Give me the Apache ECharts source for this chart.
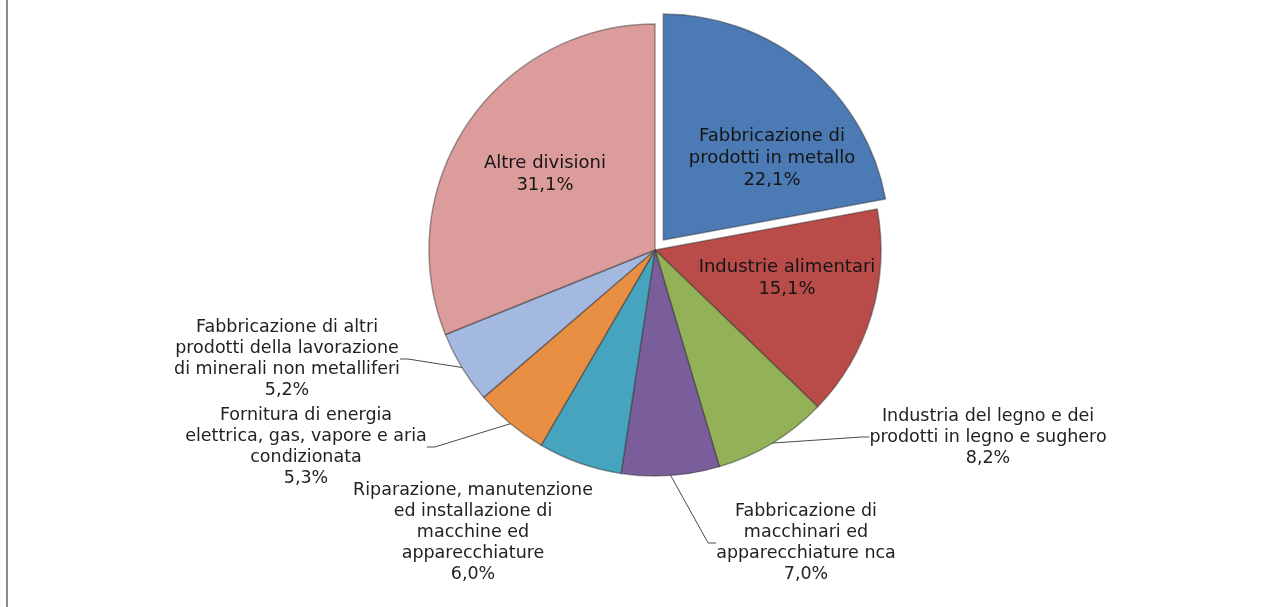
<!DOCTYPE html>
<html>
<head>
<meta charset="utf-8">
<script src="https://cdn.jsdelivr.net/npm/echarts@6/dist/echarts.min.js"></script>
<style>
  html, body { margin: 0; padding: 0; background: #fff; }
  #chart { width: 1278px; height: 607px; position: relative; }
  #edge { position: absolute; left: 6px; top: 0; width: 2px; height: 607px; background: #8c8c8c; }
</style>
</head>
<body>
<div id="edge"></div>
<div id="chart"></div>
<script>
// sectors, clockwise from 12 o'clock
const categories = [
  "Fabbricazione di\nprodotti in metallo",
  "Industrie alimentari",
  "Industria del legno e dei\nprodotti in legno e sughero",
  "Fabbricazione di\nmacchinari ed\napparecchiature nca",
  "Riparazione, manutenzione\ned installazione di\nmacchine ed\napparecchiature",
  "Fornitura di energia\nelettrica, gas, vapore e aria\ncondizionata",
  "Fabbricazione di altri\nprodotti della lavorazione\ndi minerali non metalliferi",
  "Altre divisioni"
];
const shares = [22.1, 15.1, 8.2, 7.0, 6.0, 5.3, 5.2, 31.1];
const colors = ["#4b7ab4", "#b94c49", "#93b157", "#7a5e9c", "#47a4be", "#e98f44", "#a4b9df", "#dc9c9b"];

const explodedIdx = 0;      // pulled-out sector
const insideIdx = [0, 1, 7];
const noLineIdx = [4];

// centre of each label block
const labelPos = {
  0: [772, 158],
  1: [787, 278],
  2: [988, 437],
  3: [806, 543],
  4: [473, 532],
  5: [306, 447],
  6: [287, 359],
  7: [545, 174]
};

const cx = 655, cy = 250, R = 226, pull = 13;

// direction of the exploded sector's bisector
const total = shares.reduce((a, b) => a + b, 0);
const before = shares.slice(0, explodedIdx).reduce((a, b) => a + b, 0);
const midDeg = (before + shares[explodedIdx] / 2) / total * 360;
const midRad = midDeg * Math.PI / 180;
const cx2 = cx + pull * Math.sin(midRad);
const cy2 = cy - pull * Math.cos(midRad);

const hidden = {
  itemStyle: { color: "rgba(0,0,0,0)", borderWidth: 0 },
  label: { show: false },
  labelLine: { show: false }
};

function item(i, visible) {
  if (!visible) return Object.assign({ name: categories[i], value: shares[i] }, hidden);
  const inside = insideIdx.includes(i);
  return {
    name: categories[i],
    value: shares[i],
    itemStyle: { color: colors[i] },
    label: inside
      ? { position: "inside", color: "#151515", fontSize: 18, lineHeight: 22 }
      : { position: "outside", color: "#222222", fontSize: 17.5, lineHeight: 21 },
    labelLine: { show: !inside && !noLineIdx.includes(i) }
  };
}

const common = {
  type: "pie",
  radius: R,
  startAngle: 90,
  clockwise: true,
  avoidLabelOverlap: false,
  silent: true,
  itemStyle: {
    borderColor: "rgba(45,45,45,0.45)",
    borderWidth: 1.5
  },
  label: {
    show: true,
    fontFamily: "DejaVu Sans",
    align: "center",
    formatter: p => p.name + "\n" + p.value.toFixed(1).replace(".", ",") + "%"
  },
  labelLine: {
    show: true,
    length: 10,
    length2: 8,
    lineStyle: { color: "#4a4a4a", width: 1 }
  },
  labelLayout: p => {
    const pos = labelPos[p.dataIndex];
    return { x: pos[0], y: pos[1], align: "center", verticalAlign: "middle" };
  }
};

const chart = echarts.init(document.getElementById("chart"));
chart.setOption({
  animation: false,
  series: [
    Object.assign({}, common, {
      center: [cx, cy],
      data: categories.map((c, i) => item(i, i !== explodedIdx))
    }),
    Object.assign({}, common, {
      center: [cx2, cy2],
      data: categories.map((c, i) => item(i, i === explodedIdx))
    })
  ]
});
</script>
</body>
</html>
